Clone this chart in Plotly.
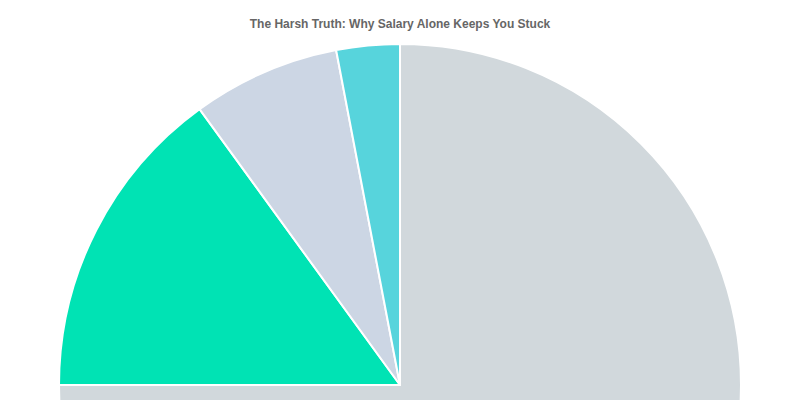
import plotly.graph_objects as go

labels = ["Salary Only", "Side Income", "Investments", "Passive Income"]
values = [75, 15, 7, 3]
colors = ["#d1d8dc", "#00e3b4", "#ccd6e4", "#57d4dc"]

W, H = 800, 770

fig = go.Figure(go.Pie(
    labels=labels,
    values=values,
    sort=False,
    direction="clockwise",
    rotation=0,
    marker=dict(colors=colors, line=dict(color="#ffffff", width=2)),
    textinfo="none",
    hoverinfo="label+percent",
    showlegend=False,
))

fig.update_layout(
    width=W, height=H,
    margin=dict(l=59, r=59, t=44, b=44),
    paper_bgcolor="#ffffff",
    plot_bgcolor="#ffffff",
    title=dict(
        text="<b>The Harsh Truth: Why Salary Alone Keeps You Stuck</b>",
        font=dict(family="Liberation Sans, Arial, sans-serif", size=12, color="#666666"),
        x=0.5, xanchor="center",
        yref="container", y=1 - 24 / H, yanchor="middle",
    ),
)

fig.write_html(
    "out.html",
    config={"displayModeBar": False},
    post_script=(
        "document.body.style.margin='0';"
        "document.body.style.overflow='hidden';"
        "document.documentElement.style.overflow='hidden';"
    ),
)
